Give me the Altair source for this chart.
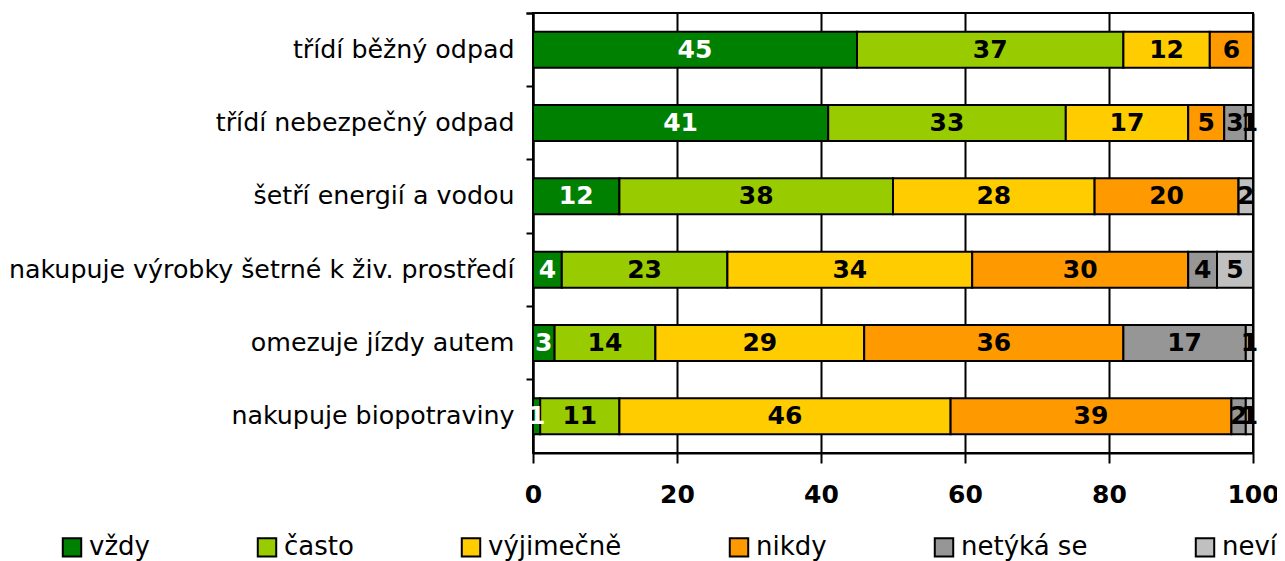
import altair as alt
import pandas as pd

categories = [
    "třídí běžný odpad",
    "třídí nebezpečný odpad",
    "šetří energií a vodou",
    "nakupuje výrobky šetrné k živ. prostředí",
    "omezuje jízdy autem",
    "nakupuje biopotraviny",
]
responses = ["vždy", "často", "výjimečně", "nikdy", "netýká se", "neví"]
vzdy = [45, 41, 12, 4, 3, 1]
casto = [37, 33, 38, 23, 14, 11]
vyjimecne = [12, 17, 28, 34, 29, 46]
nikdy = [6, 5, 20, 30, 36, 39]
netyka_se = [0, 3, 0, 4, 17, 2]
nevi = [0, 1, 2, 5, 1, 1]
colors = ["#008000", "#99CC00", "#FFCC00", "#FF9900", "#969696", "#C0C0C0"]
x_ticks = [0, 20, 40, 60, 80, 100]

series = [vzdy, casto, vyjimecne, nikdy, netyka_se, nevi]
rows = []
for ci, cat in enumerate(categories):
    for ri, resp in enumerate(responses):
        rows.append({"cat": cat, "resp": resp, "order": ri, "value": series[ri][ci]})
df = pd.DataFrame(rows)

FONT = "DejaVu Sans"

base = alt.Chart(df).transform_stack(
    stack="value",
    groupby=["cat"],
    sort=[alt.SortField("order", order="ascending")],
    as_=["x0", "x1"],
).transform_calculate(mid="(datum.x0 + datum.x1) / 2")

y_enc = alt.Y(
    "cat:N",
    sort=categories,
    scale=alt.Scale(paddingInner=0, paddingOuter=0),
    axis=alt.Axis(
        title=None,
        labelFont=FONT,
        labelFontSize=25.3,
        labelColor="black",
        labelPadding=12,
        labelLimit=700,
        tickSize=7,
        tickWidth=2,
        tickColor="black",
        domainColor="black",
        domainWidth=2,
        bandPosition=0,
        tickExtra=True,
        grid=False,
    ),
)

x_axis = alt.Axis(
    values=x_ticks,
    title=None,
    grid=True,
    gridColor="black",
    gridWidth=2,
    gridOpacity=1,
    tickSize=10,
    tickWidth=2,
    tickColor="black",
    domainColor="black",
    domainWidth=2,
    labelFont=FONT,
    labelFontSize=25,
    labelFontWeight="bold",
    labelColor="black",
    labelPadding=19,
    labelFlush=False,
)

bars = base.mark_bar(stroke="black", strokeWidth=2, size=36).encode(
    x=alt.X("x0:Q", scale=alt.Scale(domain=[0, 100], nice=False), axis=x_axis),
    x2="x1:Q",
    y=y_enc,
    color=alt.Color(
        "resp:N",
        sort=responses,
        scale=alt.Scale(domain=responses, range=colors),
        legend=alt.Legend(
            orient="none",
            legendX=-474,
            legendY=521,
            direction="horizontal",
            title=None,
            symbolType="square",
            symbolSize=340,
            symbolStrokeColor="black",
            symbolStrokeWidth=2,
            symbolOpacity=1,
            labelFont=FONT,
            labelFontSize=26,
            labelColor="black",
            labelOffset=4,
            columnPadding=103,
            padding=0,
            labelLimit=400,
        ),
    ),
)

labels = base.transform_filter("datum.value > 0").mark_text(
    font=FONT, fontSize=25, fontWeight="bold", baseline="middle", align="center"
).encode(
    x="mid:Q",
    y=y_enc,
    text="value:Q",
    color=alt.condition("datum.resp == 'vždy'", alt.value("white"), alt.value("black")),
)

chart = alt.layer(bars, labels).properties(
    width=720,
    height=440,
    padding={"left": 525, "top": 5, "right": 24, "bottom": 108},
    autosize=alt.AutoSizeParams(type="none"),
).configure_view(stroke="black", strokeWidth=2)

chart.save("out.html", embed_options={"renderer": "svg", "actions": False})
